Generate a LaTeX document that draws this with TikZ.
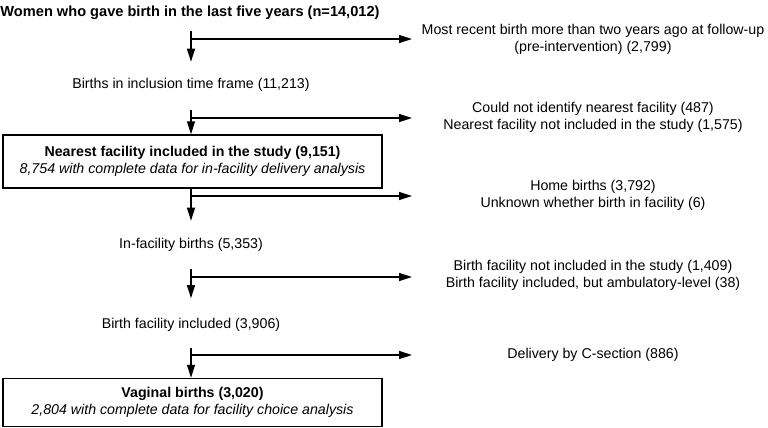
\documentclass[tikz,border=0pt]{standalone}
\usepackage{fontspec}
\setmainfont{Liberation Sans}
\usetikzlibrary{arrows.meta,positioning}

\begin{document}
\begin{tikzpicture}[x=1pt, y=-1pt,
      stage/.style={font=\fontsize{14.2}{17}\selectfont, align=center, inner sep=2pt},
      headline/.style={stage, font=\fontsize{14.6}{17}\selectfont\bfseries},
      keybox/.style={stage, draw, line width=1.5pt, minimum width=379pt},
      flow/.style={-{Triangle[length=13pt, width=8pt]}, line width=1.4pt},
    ]
    \useasboundingbox (0,0) rectangle (768,428);
    \coordinate (spine) at (191,0);
    \coordinate (reach) at (412,0);

    % Main column
    \node[headline] (women) at (190,13)
      {Women who gave birth in the last five years (n=14,012)};
    \node[stage] (inframe) at (191,85) {Births in inclusion time frame (11,213)};
    \node[keybox, minimum height=53pt] (nearest) at (192.5,161.5)
      {\textbf{Nearest facility included in the study (9,151)}\\
       \textit{8,754 with complete data for in-facility delivery analysis}};
    \node[stage] (infac) at (191,245) {In-facility births (5,353)};
    \node[stage] (incl) at (191,325) {Birth facility included (3,906)};
    \node[keybox, minimum height=48pt] (vaginal) at (192.5,402.5)
      {\textbf{Vaginal births (3,020)}\\
       \textit{2,804 with complete data for facility choice analysis}};

    % Exclusions
    \node[stage] (ex1) at (593,39)
      {Most recent birth more than two years ago at follow-up\\(pre-intervention) (2,799)};
    \node[stage] (ex2) at (593,117)
      {Could not identify nearest facility (487)\\Nearest facility not included in the study (1,575)};
    \node[stage] (ex3) at (593,195)
      {Home births (3,792)\\Unknown whether birth in facility (6)};
    \node[stage] (ex4) at (593,275)
      {Birth facility not included in the study (1,409)\\Birth facility included, but ambulatory-level (38)};
    \node[stage] (ex5) at (593,355) {Delivery by C-section (886)};

    % Downward steps
    \draw[flow, shorten <=9.4pt, shorten >=14.5pt] (women.south -| spine) -- (inframe.north -| spine);
    \draw[flow, shorten <=16.5pt] (inframe.south -| spine) -- (nearest.north -| spine);
    \draw[flow, shorten >=15.5pt] (nearest.south -| spine) -- (infac.north -| spine);
    \draw[flow, shorten <=15.5pt, shorten >=18pt] (infac.south -| spine) -- (incl.north -| spine);
    \draw[flow, shorten <=14.5pt] (incl.south -| spine) -- (vaginal.north -| spine);

    % Side branches
    \foreach \y/\k in {39/1, 118/2, 196/3, 277/4, 355/5} {
      \coordinate (br\k) at (191,\y);
      \draw[flow] (br\k) -- (br\k -| reach);
    }
\end{tikzpicture}
\end{document}
